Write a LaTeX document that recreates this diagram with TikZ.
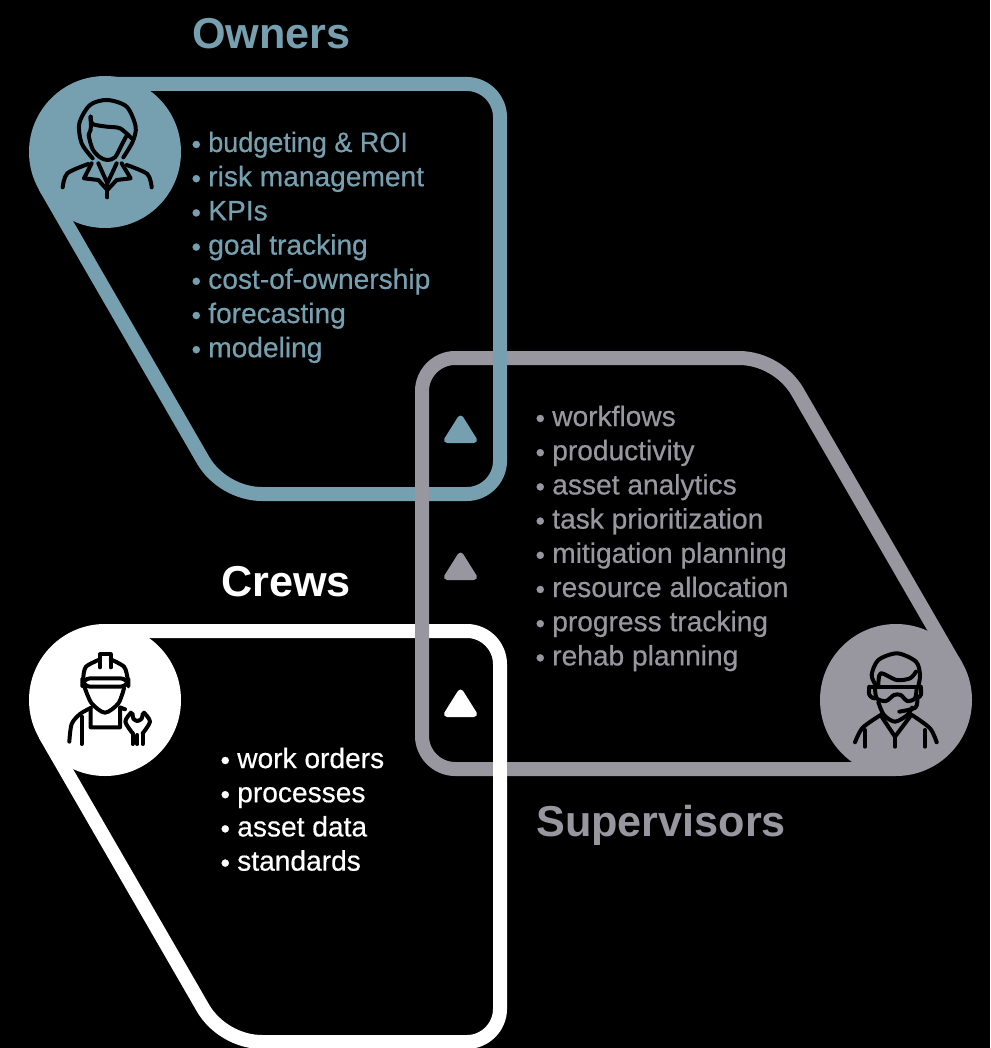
\documentclass[tikz,border=0pt]{standalone}
\usepackage{fontspec}
\setmainfont{Liberation Sans}
\newfontfamily\itemfont[FakeBold=0.5]{Liberation Sans}
\usetikzlibrary{calc}
\definecolor{tealc}{HTML}{76A0AF}
\definecolor{grayc}{HTML}{98979F}
\newcommand{\blt}{\makebox[12pt][l]{\hspace{-0.5pt}\raisebox{-1pt}{\fontsize{20pt}{20pt}\selectfont •}}}
\tikzset{
  frame/.style={line width=10.5pt,line join=round},
  disc/.style={circle,minimum size=114pt,inner sep=0pt},
  tri/.style={line width=4.5pt,line join=round},
  icon/.style={line width=3pt,black,line cap=round,line join=round},
  head/.style={anchor=base west,inner sep=0pt,font=\fontsize{32.4pt}{36pt}\selectfont\bfseries},
  item/.style={anchor=base west,inner sep=0pt,font=\fontsize{21.1pt}{24pt}\itemfont\selectfont}
}
\begin{document}
\begin{tikzpicture}[x=0.75pt,y=-0.75pt]
\path[fill=black,use as bounding box] (0,0) rectangle (990,1048);
% frames
\draw[frame,tealc] (105,84) -- (467,84) .. controls (485,84) and (500,99) .. (500,117) -- (500,461) .. controls (500,479) and (485,494) .. (467,494) -- (262,494) .. controls (238.6,494) and (214.8,480.4) .. (203,460) -- (45,186.5);
\draw[frame,white] (105,631) -- (467,631) .. controls (485,631) and (500,646) .. (500,664) -- (500,1009) .. controls (500,1027) and (485,1042) .. (467,1042) -- (262,1042) .. controls (238.6,1042) and (214.8,1028.4) .. (203,1008) -- (45,734.5);
\draw[frame,grayc] (896,769) -- (455,769) .. controls (437,769) and (422,754) .. (422,736) -- (422,391) .. controls (422,373) and (437,358) .. (455,358) -- (739,358) .. controls (762.4,358) and (785.8,371.6) .. (797.5,391.8) -- (955.7,665.5);
\draw[line width=10.5pt,tealc] (500,345) -- (500,375);
\draw[line width=10.5pt,white] (500,755) -- (500,785);
% discs
\node[disc,fill=tealc] (ownerdisc) at (105,152) {};
\node[disc,fill=white] (crewdisc) at (105,700) {};
\node[disc,fill=grayc] (supdisc) at (896,700) {};
% triangles
\filldraw[tri,tealc] (460.5,418.5) -- (474,440) -- (447,440) -- cycle;
\filldraw[tri,grayc] (460.5,555.5) -- (474,577) -- (447,577) -- cycle;
\filldraw[tri,white] (460.5,692.5) -- (474,714) -- (447,714) -- cycle;
% headings
\node[head,tealc] (ownerhead) at (192,49) {Owners};
\node[head,white] (crewhead) at (221,596) {Crews};
\node[head,grayc] (suphead) at (536,836) {Supervisors};
% lists
\foreach \t [count=\i from 0] in {{\scalebox{0.96}[1]{budgeting \& ROI}},risk management,KPIs,goal tracking,cost-of-ownership,forecasting,modeling}
  \node[item,tealc] (owner\i) at (192,{152+34.2*\i}) {\blt\t};
\foreach \t [count=\i from 0] in {workflows,productivity,asset analytics,task prioritization,mitigation planning,resource allocation,progress tracking,rehab planning}
  \node[item,grayc] (sup\i) at (536,{426+34.2*\i}) {\blt\t};
\foreach \t [count=\i from 0] in {work orders,processes,asset data,standards}
  \node[item,white] (crew\i) at (221,{768+34.2*\i}) {\blt\t};
% owner icon
\begin{scope}[shift={(20,70)},x=0.25pt,y=-0.25pt,icon]
\draw plot[smooth] coordinates {(218,265)(185,220)(178,160)(210,105)(262,90)(320,110)(347,170)(338,215)(310,262)};
\draw plot[smooth] coordinates {(212,140)(218,162)(260,170)(300,175)(335,205)};
\draw plot[smooth] coordinates {(212,140)(212,180)(206,195)(218,238)(240,262)(262,270)(285,262)(305,225)(318,200)};
\draw plot[smooth] coordinates {(128,352)(142,310)(205,282)};
\draw plot[smooth] coordinates {(395,352)(382,312)(320,285)};
\draw (215,280)--(192,325)--(235,330)--(262,360)--(290,330)--(332,325)--(305,280);
\draw (235,280)--(262,340)--(290,280);
\draw (262,340)--(262,382);
\end{scope}
% crew icon
\begin{scope}[shift={(20,620)},x=0.25pt,y=-0.25pt,icon]
\draw plot[smooth] coordinates {(190,172)(198,140)(240,118)};
\draw plot[smooth] coordinates {(272,118)(312,140)(322,172)};
\draw (240,142)--(240,103)--(272,103)--(272,142);
\draw[rounded corners=6pt] (187,175) rectangle (325,200);
\draw plot[smooth] coordinates {(195,205)(215,250)(255,278)(295,250)(312,205)};
\draw plot[smooth] coordinates {(148,365)(155,312)(180,282)(212,264)};
\draw (212,264)--(212,322)--(300,322)--(300,262)--(315,268);
\draw (185,290)--(185,372);
\draw plot[smooth] coordinates {(333,278)(316,305)(338,340)};
\draw plot[smooth] coordinates {(372,278)(390,305)(368,340)};
\draw plot[smooth] coordinates {(338,282)(340,296)(352,303)(365,296)(368,282)};
\draw (338,340)--(338,372);
\draw (352,345)--(352,372);
\draw (368,340)--(368,372);
\end{scope}
% supervisor icon
\begin{scope}[shift={(810,615)},x=0.25pt,y=-0.25pt,icon]
\draw plot[smooth] coordinates {(198,212)(185,180)(205,135)(262,115)(318,140)(330,180)(325,212)};
\draw plot[smooth] coordinates {(205,212)(212,175)(260,195)(300,190)(318,170)};
\draw (178,215)--(332,215);
\draw plot[smooth] coordinates {(195,218)(200,250)(228,258)(252,240)(272,240)(292,258)(315,250)(320,218)};
\draw[rounded corners=5pt] (178,215)--(175,250)--(195,250);
\draw[rounded corners=5pt] (332,215)--(336,250)--(318,250);
\draw plot[smooth] coordinates {(322,250)(316,278)(268,290)};
\draw plot[smooth] coordinates {(205,262)(222,300)(255,320)(292,300)(306,278)};
\draw plot[smooth] coordinates {(135,382)(158,338)(215,298)};
\draw plot[smooth] coordinates {(380,382)(360,340)(306,300)};
\draw (215,305)--(255,365)--(300,305);
\draw (255,365)--(255,395);
\draw (165,345)--(165,395);
\draw (345,345)--(345,395);
\end{scope}
\end{tikzpicture}
\end{document}
